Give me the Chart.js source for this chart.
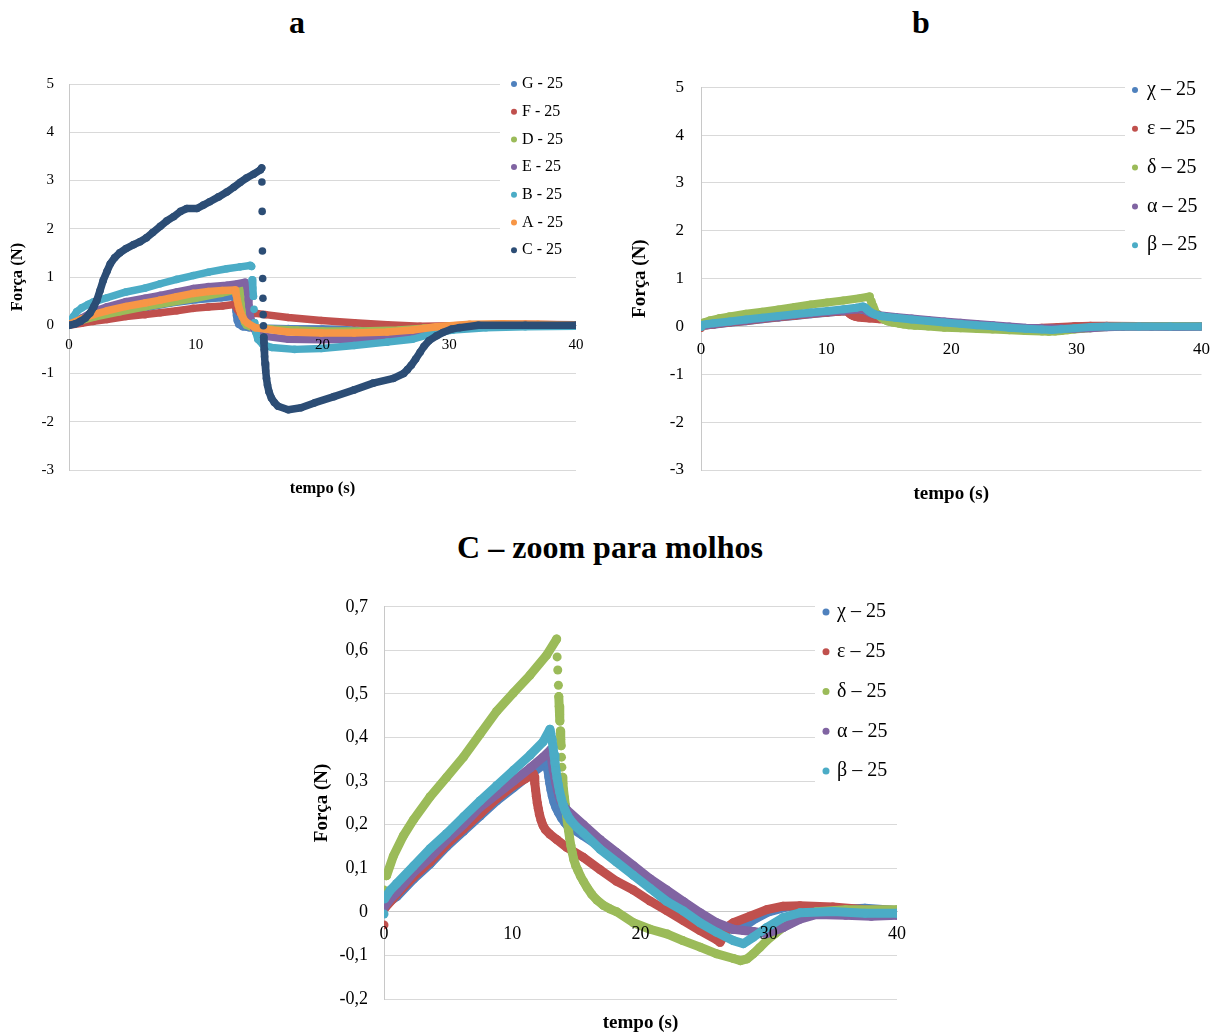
<!DOCTYPE html>
<html>
<head>
<meta charset="utf-8">
<script src="https://cdn.jsdelivr.net/npm/chart.js@4.4.1/dist/chart.umd.min.js"></script>
<style>
  body { margin: 0; background: #fff; width: 1223px; height: 1035px; position: relative; overflow: hidden; }
  .ttl { position: absolute; font-family: "Liberation Serif", "Times New Roman", serif; font-weight: bold;
         font-size: 32px; line-height: 36px; text-align: center; color: #000; }
  .box { position: absolute; }
</style>
</head>
<body>
<div class="ttl" style="left:247px; top:4px; width:100px;">a</div>
<div class="ttl" style="left:871px; top:4px; width:100px;">b</div>
<div class="ttl" style="left:360px; top:529px; width:500px;">C – zoom para molhos</div>

<div class="box" style="left:0; top:60px;"><canvas id="chartA" width="600" height="450"></canvas></div>
<div class="box" style="left:620px; top:60px;"><canvas id="chartB" width="603" height="455"></canvas></div>
<div class="box" style="left:300px; top:580px;"><canvas id="chartC" width="620" height="455"></canvas></div>

<script>
/* ============================================================
   DATA  -  [tempo (s), força (N)]
   ============================================================ */
const labelsA = ["G - 25", "F - 25", "D - 25", "E - 25", "B - 25", "A - 25", "C - 25"];
const labelsB = ["χ – 25", "ε – 25", "δ – 25", "α – 25", "β – 25"];

const colorsA = ["#4F81BD", "#C0504D", "#9BBB59", "#8064A2", "#4BACC6", "#F79646", "#2C4D75"];
const colorsB = ["#4F81BD", "#C0504D", "#9BBB59", "#8064A2", "#4BACC6"];

// panel a
const ptsG = [[0,.02],[1,.08],[2,.14],[4,.25],[6,.36],[8,.46],[10,.53],[12,.57],[13.1,.6],[13.12,.5],[13.15,.4],
  [13.18,.3],[13.22,.2],[13.28,.1],[13.4,.02],[13.7,-.03],[14.2,-.05],[17.3,-.07],[20,-.08],[22.5,-.1],[25,-.1],
  [27.7,-.07],[30.3,-.03],[33,-.01],[36,0],[40,0]];
const ptsF = [[0,0],[1,.04],[1.9,.08],[3,.12],[4.5,.18],[6,.22],[7.2,.26],[8.5,.3],[9.8,.35],[11,.38],[12.1,.4],
  [13,.43],[13.1,.42],[13.2,.37],[13.3,.32],[13.45,.27],[13.6,.24],[14,.24],[14.7,.25],[15.5,.22],[17.3,.16],
  [19.9,.1],[22.5,.05],[25.1,.01],[27.7,-.02],[30.3,-.01],[32.9,.01],[36,.02],[40,.01]];
const ptsD = [[0,.02],[1,.1],[2,.17],[4,.28],[6,.38],[8,.47],[10,.56],[12,.66],[13.5,.75],[13.55,.65],[13.6,.52],
  [13.65,.4],[13.7,.28],[13.76,.16],[13.85,.06],[14,0],[14.5,-.05],[16,-.08],[18,-.1],[20,-.12],[23,-.12],
  [26,-.1],[28,-.06],[30,-.02],[33,0],[40,0]];
const ptsE = [[0,.02],[1,.15],[1.9,.28],[3,.38],[4.5,.49],[6,.56],[7.2,.62],[8.5,.69],[9.8,.76],[11,.8],[12.45,.83],
  [13.3,.86],[13.9,.89],[14.05,.8],[14.1,.67],[14.15,.53],[14.2,.4],[14.27,.26],[14.35,.13],[14.45,.02],
  [14.6,-.08],[14.8,-.16],[15.2,-.22],[17.3,-.29],[19.9,-.3],[22.5,-.29],[25.1,-.23],[27.7,-.14],[30.3,-.05],
  [32.9,-.01],[36,0],[40,0]];
const ptsB = [[0,0],[0.15,.1],[0.35,.18],[0.6,.28],[1,.36],[1.5,.43],[1.9,.48],[3,.57],[4.5,.69],[6,.77],[7.2,.86],
  [8.5,.95],[9.8,1.03],[11,1.1],[12.45,1.17],[13.5,1.21],[14.3,1.24],[14.4,1.22],[14.45,.94],[14.5,.77],
  [14.55,.6],[14.6,.33],[14.65,.05],[14.75,-.15],[14.9,-.29],[15.3,-.4],[16,-.46],[17.8,-.5],[19.9,-.48],
  [22.5,-.42],[25.1,-.35],[27.1,-.29],[29,-.15],[30.3,-.1],[32.9,-.05],[36,-.03],[40,-.02]];
const ptsA = [[0,.02],[1,.13],[1.9,.22],[3,.3],[4.5,.39],[6,.46],[7.2,.52],[8.5,.59],[9.8,.66],[11,.7],[12.1,.72],
  [13.1,.73],[13.15,.7],[13.2,.62],[13.28,.52],[13.36,.42],[13.45,.33],[13.55,.25],[13.68,.17],[13.85,.1],
  [14.1,.04],[14.7,-.05],[17.3,-.14],[19.9,-.16],[22.5,-.16],[25.1,-.14],[27.1,-.1],[29,-.03],[31.6,.02],
  [34.2,.03],[37,.02],[40,0]];
const ptsC = [[0,0],[0.5,.03],[0.9,.08],[1.3,.15],[1.65,.25],[1.95,.38],[2.2,.52],[2.45,.72],[2.7,.93],[3,1.12],
  [3.25,1.27],[3.6,1.4],[4,1.5],[4.5,1.59],[5.1,1.67],[5.6,1.73],[6.1,1.81],[6.6,1.92],[7.2,2.05],[7.7,2.16],
  [8.25,2.25],[8.8,2.36],[9.3,2.42],[10.1,2.42],[10.6,2.49],[11.1,2.56],[11.8,2.66],[12.45,2.76],[13,2.86],
  [13.5,2.96],[14,3.05],[14.55,3.13],[15.1,3.22],[15.2,3.26],[15.22,2.97],[15.24,2.36],[15.26,1.54],[15.28,.97],
  [15.3,.56],[15.32,.22],[15.34,-.01],[15.36,-.25],[15.38,-.35],[15.4,-.5],[15.43,-.65],[15.47,-.8],[15.52,-.95],
  [15.58,-1.1],[15.66,-1.24],[15.78,-1.38],[15.97,-1.51],[16.2,-1.6],[16.5,-1.68],[17.3,-1.75],[18.3,-1.71],
  [19.35,-1.61],[20.9,-1.48],[22.5,-1.34],[24,-1.2],[25.6,-1.1],[26.4,-1],[26.7,-.92],[27,-.83],[27.35,-.7],
  [27.7,-.56],[28,-.44],[28.4,-.32],[29,-.22],[29.5,-.15],[30.2,-.08],[30.8,-.05],[32.3,0],[36,0],[40,0]];

// panels b and c (same measurements, two scales)
const ptsChi = [[0,.015],[0.5,.025],[1,.035],[2.3,.075],[3.6,.11],[4.9,.15],[6.2,.185],[7.5,.22],[8.8,.255],[10.1,.285],
  [11.4,.315],[12.4,.337],[12.7,.35],[12.72,.34],[12.78,.325],[12.85,.31],[12.93,.295],[13.02,.28],[13.12,.266],
  [13.25,.252],[13.4,.24],[13.6,.228],[13.85,.215],[14.1,.205],[14.3,.198],[15.5,.175],[16.8,.15],[18.1,.12],
  [19.4,.09],[20.7,.06],[22,.03],[23.3,.005],[24.6,-.015],[25.9,-.03],[27.2,-.04],[28,-.035],[29,-.015],[30,0],
  [31.5,.012],[33,.01],[35,.005],[37.5,.008],[40,.003]];
const ptsEps = [[0,-.03],[0.1,.01],[1,.04],[2.3,.08],[3.6,.115],[4.9,.155],[6.2,.19],[7.5,.225],[8.8,.26],[10.1,.29],
  [11,.305],[11.64,.317],[11.7,.31],[11.76,.295],[11.82,.28],[11.88,.265],[11.95,.25],[12.03,.237],[12.12,.224],
  [12.25,.21],[12.4,.198],[12.6,.188],[12.94,.178],[13.46,.166],[14.25,.148],[15.54,.125],[16.84,.097],
  [18.14,.07],[19.44,.05],[20.74,.025],[22.04,.003],[23.34,-.02],[24.64,-.043],[25.94,-.064],[26.2,-.07],
  [27,-.03],[27.24,-.025],[28.54,-.01],[29.84,.005],[31.13,.013],[32.43,.014],[35,.011],[37.6,.005],[40,.003]];
const ptsDelta = [[0,.05],[0.2,.083],[0.73,.128],[1.5,.174],[2.29,.211],[3.59,.264],[4.89,.309],[6.19,.355],
  [7.49,.408],[8.78,.46],[10.08,.502],[11.38,.543],[12.68,.589],[13.46,.626],[13.5,.585],[13.55,.555],[13.6,.52],
  [13.63,.494],[13.66,.472],[13.69,.453],[13.72,.438],[13.75,.415],[13.78,.396],[13.81,.381],[13.84,.355],
  [13.87,.332],[13.9,.309],[13.95,.295],[14,.28],[14.07,.262],[14.14,.245],[14.22,.225],[14.3,.206],[14.38,.188],
  [14.47,.17],[14.57,.152],[14.68,.136],[14.8,.12],[14.95,.106],[15.12,.095],[15.32,.082],[15.55,.07],
  [15.85,.055],[16.2,.04],[16.6,.027],[17.1,.015],[17.6,.007],[18.15,0],[19.45,-.025],[20.75,-.04],[22.1,-.051],
  [23.3,-.066],[24.65,-.081],[25.9,-.096],[27.25,-.107],[27.8,-.112],[28.3,-.108],[28.8,-.096],[29.3,-.082],
  [29.84,-.066],[30.5,-.05],[31.1,-.036],[32.45,-.013],[33.7,0],[36,.005],[40,.005]];
const ptsAlpha = [[0,.01],[0.5,.03],[1,.045],[2.3,.09],[3.6,.125],[4.9,.165],[6.2,.2],[7.5,.24],[8.8,.27],[10.1,.3],
  [11.4,.33],[12.4,.355],[13,.372],[13.05,.355],[13.12,.34],[13.2,.325],[13.3,.31],[13.4,.295],[13.52,.28],
  [13.65,.266],[13.8,.254],[14,.243],[14.25,.234],[15.54,.2],[16.84,.166],[18.14,.136],[19.44,.106],[20.74,.076],
  [22.04,.05],[23.34,.024],[24.64,-.002],[25.94,-.025],[27.24,-.04],[28.02,-.043],[28.8,-.045],[29.84,-.05],
  [31.13,-.036],[32.43,-.017],[33.73,-.006],[36,-.008],[38,-.01],[40,-.008]];
const ptsBeta = [[0,-.005],[0.05,.03],[0.5,.05],[1,.065],[2.3,.105],[3.6,.145],[4.9,.18],[6.2,.218],[7.5,.255],
  [8.8,.29],[10.1,.325],[11.4,.36],[12.4,.39],[12.94,.419],[13,.41],[13.1,.395],[13.18,.378],[13.26,.36],
  [13.33,.342],[13.41,.324],[13.5,.306],[13.6,.29],[13.7,.275],[13.82,.26],[13.96,.246],[14.12,.233],[14.3,.222],
  [14.5,.212],[15,.195],[15.54,.181],[16.84,.144],[18.14,.114],[19.44,.084],[20.74,.054],[22.04,.024],
  [23.34,.002],[24.64,-.025],[25.94,-.047],[27.24,-.066],[28.02,-.073],[28.8,-.058],[29.84,-.036],[31.13,-.013],
  [32.43,-.002],[35,.001],[37.5,-.003],[40,-.003]];

const seriesA = [ptsG, ptsF, ptsD, ptsE, ptsB, ptsA, ptsC];
const seriesB = [ptsChi, ptsEps, ptsDelta, ptsAlpha, ptsBeta];

/* ============================================================
   HELPERS
   ============================================================ */
const FONT = '"Liberation Serif", "Times New Roman", serif';
const GRID = "#D9D9D9";
const AXIS = "#C8C8C8";

// steep jumps between samples are drawn as separate dots, not a band
function hideJump(ctx) {
    const dx = Math.abs(ctx.p1.x - ctx.p0.x);
    const dy = Math.abs(ctx.p1.y - ctx.p0.y);
    return (dy > 10 && dy > 4 * dx) ? "rgba(0,0,0,0)" : undefined;
}

function makeDatasets(series, labels, colors, lw, r) {
    return series.map((pts, i) => ({
        label: labels[i],
        data: pts.map(p => ({ x: p[0], y: p[1] })),
        showLine: true,
        borderColor: colors[i],
        backgroundColor: colors[i],
        pointBackgroundColor: colors[i],
        borderWidth: lw,
        pointRadius: r,
        pointBorderWidth: 0,
        borderCapStyle: "round",
        borderJoinStyle: "round",
        tension: 0,
        order: -i,
        segment: { borderColor: hideJump }
    }));
}

// Excel-like legend box sitting on top of the plot area
const boxLegend = {
    id: "boxLegend",
    beforeDatasetsDraw(chart, args, o) {
        const { ctx } = chart;
        ctx.save();
        ctx.fillStyle = "#fff";
        ctx.fillRect(o.box[0], o.box[1], o.box[2], o.box[3]);
        ctx.font = o.font;
        ctx.textBaseline = "middle";
        chart.data.datasets.forEach((ds, i) => {
            const y = o.y0 + i * o.dy;
            ctx.fillStyle = ds.backgroundColor;
            ctx.beginPath();
            ctx.arc(o.x, y, o.r, 0, Math.PI * 2);
            ctx.fill();
            ctx.fillStyle = "#000";
            ctx.fillText(ds.label, o.x + o.gap, y);
        });
        ctx.restore();
    }
};

function drawPanel(canvasId, p) {
    new Chart(document.getElementById(canvasId), {
        type: "scatter",
        data: { datasets: makeDatasets(p.series, p.labels, p.colors, p.lineW, p.dotR) },
        options: {
            responsive: false,
            animation: false,
            events: [],
            layout: { padding: p.pad },
            plugins: {
                legend: { display: false },
                tooltip: { enabled: false },
                boxLegend: p.legend
            },
            scales: {
                x: {
                    type: "linear", min: 0, max: 40, position: { y: 0 },
                    grid: { display: false, drawTicks: false },
                    border: { display: true, color: AXIS },
                    // labels sit on top of the data, as in the original
                    ticks: { z: 1, stepSize: 10, padding: p.xPad, color: "#000", maxRotation: 0,
                             font: { family: FONT, size: p.tick } }
                },
                x2: {
                    type: "linear", position: "bottom", min: 0, max: 40,
                    grid: { display: false, drawTicks: false },
                    border: { display: false },
                    ticks: { display: false },
                    title: { display: true, text: "tempo (s)", color: "#000",
                             font: { family: FONT, size: p.title, weight: "bold" },
                             padding: { top: 0, bottom: p.xTitlePad } },
                    afterFit: s => { s.height = p.x2H; }
                },
                y: {
                    type: "linear", position: "left", min: p.yMin, max: p.yMax,
                    grid: { color: GRID, drawTicks: false },
                    border: { display: true, color: AXIS },
                    ticks: { stepSize: p.yStep, padding: p.yPad, color: "#000",
                             font: { family: FONT, size: p.tick }, callback: p.fmt },
                    title: { display: true, text: "Força (N)", color: "#000",
                             font: { family: FONT, size: p.title, weight: "bold" },
                             padding: { top: p.yTitlePad, bottom: 0 } },
                    afterFit: s => { s.width = p.yW; }
                }
            }
        },
        plugins: [boxLegend]
    });
}

const intFmt = v => String(v);
const commaFmt = v => Math.abs(v) < 1e-9 ? "0" : v.toFixed(1).replace(".", ",");

/* ============================================================
   PANELS
   ============================================================ */
drawPanel("chartA", {
    series: seriesA, labels: labelsA, colors: colorsA, lineW: 7.5, dotR: 3.8,
    pad: { left: 0, top: 18, right: 24, bottom: 0 },
    yMin: -3, yMax: 5, yStep: 1, fmt: intFmt, yW: 69, x2H: 40,
    tick: 15, title: 16.5, xPad: 11, yPad: 15, xTitlePad: 11, yTitlePad: 8,
    legend: { box: [500, 8, 100, 194], x: 514, gap: 8, y0: 24, dy: 27.7, r: 3, font: "16px " + FONT }
});

drawPanel("chartB", {
    series: seriesB, labels: labelsB, colors: colorsB, lineW: 8, dotR: 4,
    pad: { left: 0, top: 18, right: 18, bottom: 0 },
    yMin: -3, yMax: 5, yStep: 1, fmt: intFmt, yW: 81, x2H: 45,
    tick: 17, title: 19, xPad: 13, yPad: 17, xTitlePad: 9.6, yTitlePad: 8.6,
    legend: { box: [505, 8, 98, 194], x: 515, gap: 12, y0: 30, dy: 38.8, r: 3, font: "20px " + FONT }
});

drawPanel("chartC", {
    series: seriesB, labels: labelsB, colors: colorsB, lineW: 9, dotR: 4.5,
    pad: { left: 0, top: 20, right: 23, bottom: 0 },
    yMin: -0.2, yMax: 0.7, yStep: 0.1, fmt: commaFmt, yW: 84, x2H: 36,
    tick: 18, title: 19, xPad: 12, yPad: 16, xTitlePad: 0.6, yTitlePad: 10.6,
    legend: { box: [515, 10, 105, 200], x: 526, gap: 11, y0: 32, dy: 39.75, r: 3.5, font: "20px " + FONT }
});
</script>
</body>
</html>
